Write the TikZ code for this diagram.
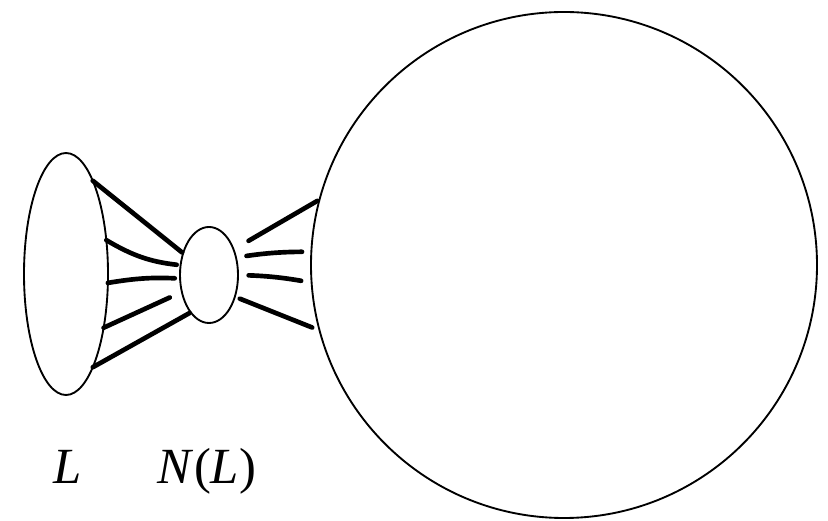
\documentclass[tikz,border=0pt]{standalone}
\usepackage{fontspec}
\setmainfont{Liberation Serif}[ItalicFont={Liberation Serif Italic}]
\usetikzlibrary{shapes.geometric}

\begin{document}
\begin{tikzpicture}[
x=0.75pt, y=0.75pt,
every node/.style={inner sep=0pt, outer sep=0pt},
setshape/.style={draw, ellipse, line width=1.4pt},
bigset/.style={draw, circle, line width=1.4pt},
link/.style={line width=3.5pt, line cap=round},
setname/.style={font=\fontsize{38}{44}\selectfont, anchor=base}
]
\useasboundingbox (0,0) rectangle (828,521);

% ------------------------
% Sets
% ------------------------
\node[setshape, minimum width=63pt, minimum height=181.5pt] (L) at (66,247) {};
\node[setshape, minimum width=43.5pt, minimum height=72pt] (NL) at (209,246) {};
\node[bigset, minimum size=379.5pt] (rest) at (564,256) {};

% Names
\node[setname] (Lname) at (68,37) {\textit{L}};
\node[setname] (NLname) at (207,37) {\textit{N}(\textit{L})};

% ------------------------
% Edges L -> N(L)
% ------------------------
\draw[link, shorten >=1pt] (L.74) -- (NL.140);
\draw[link, shorten >=3pt] (L.40) to[bend right=12] (NL.161);
\draw[link, shorten >=4pt] (L.-12) to[bend left=6] (NL.187);
\draw[link, shorten >=10pt] (L.-55) -- (NL.212);
\draw[link, shorten >=1pt] (L.-74) -- (NL.244);

% ------------------------
% Edges N(L) -> rest
% ------------------------
\draw[link, shorten <=13pt, shorten >=2pt] (NL.46) -- (rest.165.5);
\draw[link, shorten <=8pt, shorten >=7pt] (NL.33) to[bend left=4] (rest.177.4);
\draw[link, shorten <=8pt, shorten >=8pt] (NL.0) to[bend left=4] (rest.184.6);
\draw[link, shorten <=4pt, shorten >=6pt] (NL.-40) -- (rest.195.8);

\end{tikzpicture}
\end{document}
